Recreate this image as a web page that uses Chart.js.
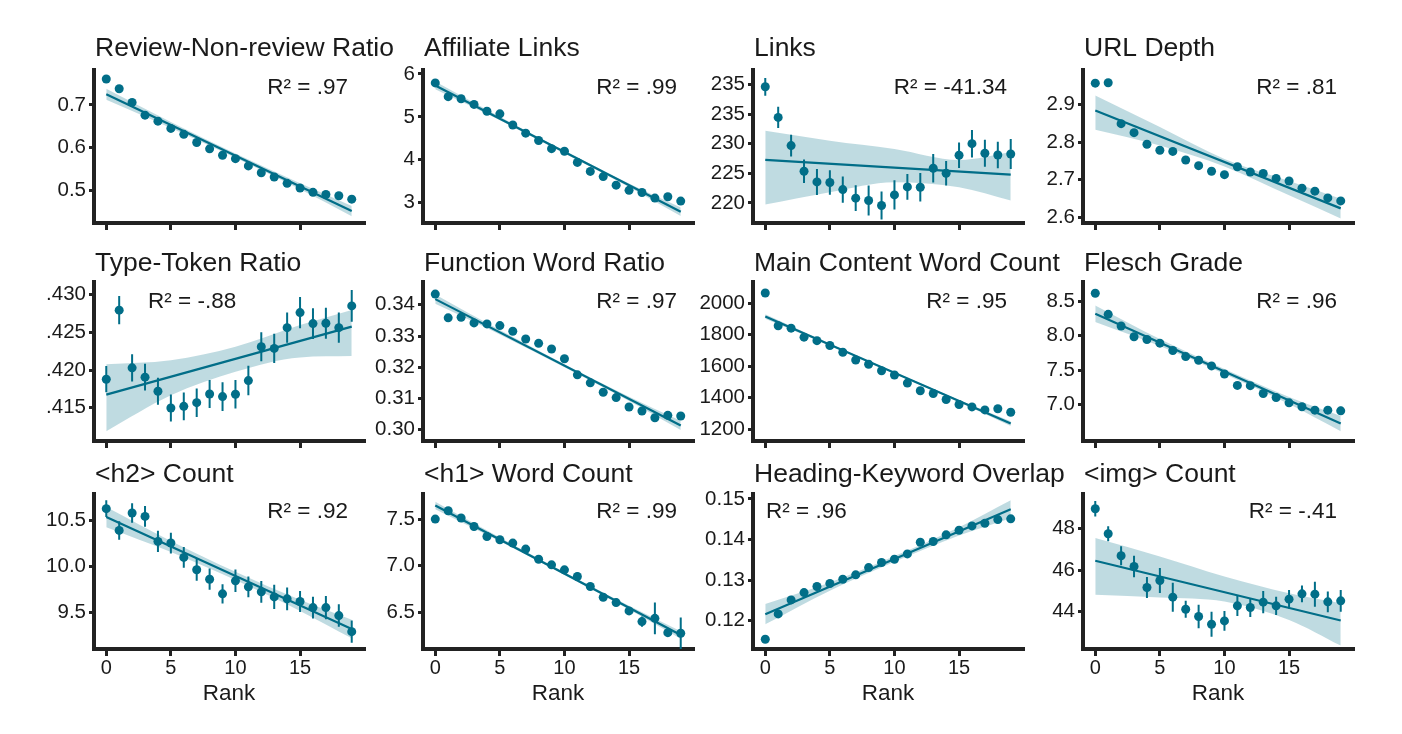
<!DOCTYPE html>
<html>
<head>
<meta charset="utf-8">
<title>Page features by rank</title>
<script src="https://cdn.jsdelivr.net/npm/chart.js@4.4.1/dist/chart.umd.min.js"></script>
<style>
    html, body { margin: 0; padding: 0; background: #fff; overflow: hidden; }
    #grid { position: relative; width: 1402px; height: 734px; }
    #grid canvas { position: absolute; }
</style>
</head>
<body>
<div id="grid"></div>
<script>
const rank = [0,1,2,3,4,5,6,7,8,9,10,11,12,13,14,15,16,17,18,19];
const bandRank = [0,5,10,15,19];
const fitRank = [0,19];
const rankTicks = [0,5,10,15];

// Review-Non-review Ratio
const reviewRatio = [0.761,0.738,0.706,0.676,0.662,0.645,0.631,0.612,0.597,0.582,0.574,0.557,0.541,0.531,0.516,0.505,0.495,0.490,0.487,0.479];
const reviewRatioFit = [0.725,0.451];
const reviewRatioLow = [0.712,0.646,0.576,0.502,0.439];
const reviewRatioHigh = [0.738,0.660,0.586,0.516,0.463];
const reviewRatioTicks = [0.5,0.6,0.7];
const reviewRatioLabels = ["0.5","0.6","0.7"];

// Affiliate Links
const affiliateLinks = [5.79,5.47,5.42,5.29,5.13,5.07,4.81,4.62,4.45,4.26,4.20,3.94,3.73,3.61,3.41,3.29,3.24,3.11,3.14,3.04];
const affiliateLinksFit = [5.73,2.79];
const affiliateLinksLow = [5.64,4.92,4.15,3.37,2.69];
const affiliateLinksHigh = [5.82,5.00,4.21,3.45,2.89];
const affiliateLinksTicks = [3,4,5,6];
const affiliateLinksLabels = ["3","4","5","6"];

// Links
const links = [239.66,234.48,229.70,225.36,223.56,223.45,222.26,220.80,220.41,219.56,221.36,222.71,222.66,225.87,225.02,228.06,230.03,228.40,228.12,228.29];
const linksErr = [1.5,1.8,1.85,1.97,2.2,2.08,2.22,2.17,2.53,2.37,2.48,2.17,2.4,2.4,2.08,2.17,2.33,2.28,2.25,2.53];
const linksFit = [227.27,224.80];
const linksLow = [219.73,221.81,223.50,222.66,220.41];
const linksHigh = [232.23,230.54,229.13,227.27,228.57];
const linksTicks = [220,225,230,235,240];
const linksLabels = ["220","225","230","235","235"];

// URL Depth
const urlDepth = [2.957,2.958,2.849,2.825,2.794,2.778,2.775,2.752,2.737,2.722,2.713,2.734,2.720,2.716,2.703,2.696,2.677,2.669,2.651,2.643];
const urlDepthFit = [2.884,2.623];
const urlDepthLow = [2.833,2.791,2.735,2.658,2.596];
const urlDepthHigh = [2.924,2.840,2.755,2.696,2.649];
const urlDepthTicks = [2.6,2.7,2.8,2.9];
const urlDepthLabels = ["2.6","2.7","2.8","2.9"];

// Type-Token Ratio
const typeToken = [0.4188,0.42796,0.42031,0.41907,0.4172,0.41498,0.4152,0.41569,0.41684,0.41649,0.4168,0.41862,0.42311,0.42289,0.42564,0.42764,0.42618,0.42622,0.42564,0.42853];
const typeTokenErr = [0.00174,0.00187,0.0018,0.00178,0.00178,0.00178,0.00185,0.00189,0.00185,0.00192,0.00189,0.00196,0.00192,0.00194,0.002,0.00207,0.00205,0.00205,0.002,0.00212];
const typeTokenFit = [0.41676,0.42578];
const typeTokenLow = [0.41191,0.41667,0.41978,0.42169,0.42187];
const typeTokenHigh = [0.4208,0.42133,0.42311,0.426,0.428];
const typeTokenTicks = [0.415,0.42,0.425,0.43];
const typeTokenLabels = [".415",".420",".425",".430"];

// Function Word Ratio
const functionWord = [0.34343,0.33582,0.33603,0.33421,0.33389,0.33335,0.33153,0.32906,0.32767,0.32584,0.32273,0.31759,0.31501,0.31201,0.31029,0.30729,0.306,0.30386,0.30461,0.3044];
const functionWordFit = [0.34182,0.30139];
const functionWordLow = [0.3403,0.3305,0.3200,0.3092,0.2999];
const functionWordHigh = [0.3433,0.3319,0.3210,0.3106,0.3029];
const functionWordTicks = [0.30,0.31,0.32,0.33,0.34];
const functionWordLabels = ["0.30","0.31","0.32","0.33","0.34"];

// Main Content Word Count
const mainWords = [2064,1856,1841,1784,1762,1731,1688,1639,1612,1571,1544,1493,1444,1427,1389,1357,1342,1323,1330,1308];
const mainWordsFit = [1915,1236];
const mainWordsLow = [1900,1729,1553,1372,1221];
const mainWordsHigh = [1930,1743,1563,1386,1251];
const mainWordsTicks = [1200,1400,1600,1800,2000];
const mainWordsLabels = ["1200","1400","1600","1800","2000"];

// Flesch Grade
const flesch = [8.617,8.31,8.14,7.984,7.945,7.891,7.784,7.696,7.643,7.56,7.443,7.277,7.273,7.16,7.102,7.024,6.966,6.917,6.917,6.907];
const fleschErr = [0.02,0.05,0.04,0.04,0.04,0.04,0.05,0.05,0.05,0.04,0.05,0.05,0.05,0.05,0.05,0.04,0.04,0.05,0.04,0.06];
const fleschFit = [8.32,6.722];
const fleschLow = [8.20,7.85,7.444,7.008,6.612];
const fleschHigh = [8.44,7.95,7.514,7.108,6.832];
const fleschTicks = [7,7.5,8,8.5];
const fleschLabels = ["7.0","7.5","8.0","8.5"];

// <h2> Count
const h2Count = [10.627,10.391,10.58,10.543,10.272,10.254,10.098,9.964,9.862,9.703,9.844,9.779,9.725,9.67,9.649,9.62,9.554,9.554,9.467,9.293];
const h2CountErr = [0.091,0.1,0.105,0.112,0.116,0.112,0.113,0.12,0.115,0.104,0.122,0.113,0.118,0.131,0.123,0.113,0.118,0.127,0.122,0.121];
const h2CountFit = [10.536,9.322];
const h2CountLow = [10.426,10.157,9.852,9.518,9.222];
const h2CountHigh = [10.646,10.277,9.942,9.638,9.422];
const h2CountTicks = [9.5,10,10.5];
const h2CountLabels = ["9.5","10.0","10.5"];

// <h1> Word Count
const h1Words = [7.5,7.589,7.511,7.421,7.314,7.279,7.243,7.179,7.071,7.011,6.957,6.886,6.779,6.664,6.607,6.518,6.404,6.439,6.286,6.279];
const h1WordsErr = [0.01,0.03,0.03,0.04,0.03,0.03,0.035,0.045,0.035,0.04,0.04,0.045,0.03,0.04,0.04,0.03,0.055,0.17,0.03,0.17];
const h1WordsFit = [7.646,6.261];
const h1WordsLow = [7.606,7.262,6.902,6.533,6.221];
const h1WordsHigh = [7.686,7.302,6.932,6.573,6.301];
const h1WordsTicks = [6.5,7,7.5];
const h1WordsLabels = ["6.5","7.0","7.5"];

// Heading-Keyword Overlap
const headingOverlap = [0.11541,0.12165,0.1251,0.12691,0.12839,0.12913,0.1302,0.13127,0.13307,0.13431,0.13513,0.13644,0.13932,0.13948,0.14113,0.14228,0.14334,0.144,0.1449,0.14507];
const headingOverlapErr = [0.0003,0.0006,0.0007,0.0008,0.0008,0.0008,0.0008,0.0008,0.0008,0.0008,0.0008,0.0008,0.0008,0.0008,0.0008,0.0008,0.0009,0.0009,0.0009,0.0009];
const headingOverlapFit = [0.12157,0.14745];
const headingOverlapLow = [0.11907,0.12738,0.13449,0.141,0.14525];
const headingOverlapHigh = [0.12407,0.12938,0.13589,0.143,0.14965];
const headingOverlapTicks = [0.12,0.13,0.14,0.15];
const headingOverlapLabels = ["0.12","0.13","0.14","0.15"];

// <img> Count
const imgCount = [48.968,47.758,46.694,46.177,45.161,45.5,44.694,44.113,43.758,43.387,43.548,44.274,44.194,44.452,44.274,44.597,44.855,44.839,44.468,44.516];
const imgCountErr = [0.379,0.363,0.46,0.524,0.508,0.605,0.702,0.411,0.565,0.605,0.476,0.484,0.452,0.54,0.444,0.444,0.403,0.605,0.5,0.524];
const imgCountFit = [46.452,43.565];
const imgCountLow = [44.806,44.677,44.484,43.597,42.355];
const imgCountHigh = [47.548,46.661,45.694,44.887,44.403];
const imgCountTicks = [44,46,48];
const imgCountLabels = ["44","46","48"];

const panels = [
    {title: "Review-Non-review Ratio", r2: "R\u00B2 = .97", values: reviewRatio, err: null, fit: reviewRatioFit, low: reviewRatioLow, high: reviewRatioHigh, ticks: reviewRatioTicks, labels: reviewRatioLabels, min: 0.423, max: 0.782},
    {title: "Affiliate Links", r2: "R\u00B2 = .99", values: affiliateLinks, err: null, fit: affiliateLinksFit, low: affiliateLinksLow, high: affiliateLinksHigh, ticks: affiliateLinksTicks, labels: affiliateLinksLabels, min: 2.53, max: 6.09},
    {title: "Links", r2: "R\u00B2 = -41.34", values: links, err: linksErr, fit: linksFit, low: linksLow, high: linksHigh, ticks: linksTicks, labels: linksLabels, min: 216.6, max: 242.5},
    {title: "URL Depth", r2: "R\u00B2 = .81", values: urlDepth, err: null, fit: urlDepthFit, low: urlDepthLow, high: urlDepthHigh, ticks: urlDepthTicks, labels: urlDepthLabels, min: 2.584, max: 2.992},
    {title: "Type-Token Ratio", r2: "R\u00B2 = -.88", values: typeToken, err: typeTokenErr, fit: typeTokenFit, low: typeTokenLow, high: typeTokenHigh, ticks: typeTokenTicks, labels: typeTokenLabels, min: 0.4106, max: 0.4317, r2Left: 54},
    {title: "Function Word Ratio", r2: "R\u00B2 = .97", values: functionWord, err: null, fit: functionWordFit, low: functionWordLow, high: functionWordHigh, ticks: functionWordTicks, labels: functionWordLabels, min: 0.2964, max: 0.3473},
    {title: "Main Content Word Count", r2: "R\u00B2 = .95", values: mainWords, err: null, fit: mainWordsFit, low: mainWordsLow, high: mainWordsHigh, ticks: mainWordsTicks, labels: mainWordsLabels, min: 1125.7, max: 2133.7},
    {title: "Flesch Grade", r2: "R\u00B2 = .96", values: flesch, err: fleschErr, fit: fleschFit, low: fleschLow, high: fleschHigh, ticks: fleschTicks, labels: fleschLabels, min: 6.469, max: 8.78},
    {title: "<h2> Count", r2: "R\u00B2 = .92", values: h2Count, err: h2CountErr, fit: h2CountFit, low: h2CountLow, high: h2CountHigh, ticks: h2CountTicks, labels: h2CountLabels, min: 9.105, max: 10.786},
    {title: "<h1> Word Count", r2: "R\u00B2 = .99", values: h1Words, err: h1WordsErr, fit: h1WordsFit, low: h1WordsLow, high: h1WordsHigh, ticks: h1WordsTicks, labels: h1WordsLabels, min: 6.111, max: 7.768},
    {title: "Heading-Keyword Overlap", r2: "R\u00B2 = .96", values: headingOverlap, err: headingOverlapErr, fit: headingOverlapFit, low: headingOverlapLow, high: headingOverlapHigh, ticks: headingOverlapTicks, labels: headingOverlapLabels, min: 0.113, max: 0.1512, r2Left: 13},
    {title: "<img> Count", r2: "R\u00B2 = -.41", values: imgCount, err: imgCountErr, fit: imgCountFit, low: imgCountLow, high: imgCountHigh, ticks: imgCountTicks, labels: imgCountLabels, min: 42.19, max: 49.68}
];

// layout of the grid (axis line positions in page pixels)
const colAxis = [94, 423, 753, 1083];
const rowTop = [70, 282, 494];
const rowBottom = [223, 441, 649];
const titleBlock = [42, 40, 42];
const titleGap = [14, 11, 12];
const xAxisHeight = [16, 16, 58];
const r2Baseline = [24, 26, 24];
const yAxisWidth = 60;
const plotWidth = 270;
const padRight = 45;

const teal = "#016e88";
const band = "rgba(1,110,136,0.25)";
const ink = "#1a1a1a";
const axisColor = "#222222";
const family = "'Liberation Sans', Arial, Helvetica, sans-serif";

Chart.defaults.font.family = family;
Chart.defaults.color = ink;

// panel title and R² note, drawn as canvas text next to the plot area
const panelText = {
    id: "panelText",
    afterDraw(chart, args, opts) {
        const area = chart.chartArea;
        const ctx = chart.ctx;
        ctx.save();
        ctx.fillStyle = ink;
        ctx.textBaseline = "alphabetic";

        ctx.font = "26.5px " + family;
        ctx.textAlign = "left";
        ctx.fillText(opts.title, area.left + 1, area.top - opts.titleGap);

        ctx.font = "22.5px " + family;
        if (opts.r2Left != null) {
            ctx.textAlign = "left";
            ctx.fillText(opts.r2, area.left + opts.r2Left, area.top + opts.r2Baseline);
        } else {
            ctx.textAlign = "right";
            ctx.fillText(opts.r2, area.left + 254, area.top + opts.r2Baseline);
        }
        ctx.restore();
    }
};

function fixTicks(values) {
    return function(scale) {
        scale.ticks = values.map(v => ({value: v}));
    };
}

function crearPanel(p, i) {
    const row = Math.floor(i / 4);
    const col = i % 4;
    const top = rowTop[row] - titleBlock[row];
    const height = titleBlock[row] + (rowBottom[row] - rowTop[row]) + xAxisHeight[row];
    const width = yAxisWidth + plotWidth + padRight;

    const canvas = document.createElement("canvas");
    canvas.width = width;
    canvas.height = height;
    canvas.style.left = (colAxis[col] - yAxisWidth) + "px";
    canvas.style.top = top + "px";
    document.getElementById("grid").appendChild(canvas);

    const datasets = [{
        data: p.values.map((v, k) => ({x: rank[k], y: v})),
        pointRadius: 4.5,
        pointBackgroundColor: teal,
        pointBorderWidth: 0,
        order: 0
    }];

    if (p.err) {
        const bars = [];
        p.values.forEach((v, k) => {
            bars.push({x: rank[k], y: v - p.err[k]}, {x: rank[k], y: v + p.err[k]}, {x: rank[k], y: null});
        });
        datasets.push({data: bars, showLine: true, spanGaps: false, pointRadius: 0, borderColor: teal, borderWidth: 2, order: 1});
    }

    datasets.push({
        data: fitRank.map((r, k) => ({x: r, y: p.fit[k]})),
        showLine: true, pointRadius: 0, borderColor: teal, borderWidth: 2.2, order: 2
    });
    datasets.push({
        data: bandRank.map((r, k) => ({x: r, y: p.high[k]})),
        showLine: true, pointRadius: 0, borderWidth: 0, borderColor: "transparent",
        backgroundColor: band, fill: "+1", cubicInterpolationMode: "monotone", order: 3
    });
    datasets.push({
        data: bandRank.map((r, k) => ({x: r, y: p.low[k]})),
        showLine: true, pointRadius: 0, borderWidth: 0, borderColor: "transparent",
        cubicInterpolationMode: "monotone", order: 4
    });

    const lastRow = row === 2;

    new Chart(canvas, {
        type: "scatter",
        data: {datasets: datasets},
        plugins: [panelText],
        options: {
            responsive: false,
            animation: false,
            devicePixelRatio: 1,
            events: [],
            layout: {padding: {left: 0, right: padRight, top: titleBlock[row], bottom: 0}},
            plugins: {
                legend: {display: false},
                tooltip: {enabled: false},
                title: {display: false},
                panelText: {
                    title: p.title,
                    titleGap: titleGap[row],
                    r2: p.r2,
                    r2Left: p.r2Left,
                    r2Baseline: r2Baseline[row]
                }
            },
            scales: {
                x: {
                    type: "linear",
                    min: -0.95,
                    max: 19.95,
                    afterBuildTicks: fixTicks(rankTicks),
                    afterFit: function(scale) { scale.height = xAxisHeight[row]; },
                    grid: {drawOnChartArea: false, drawTicks: true, tickLength: 7, lineWidth: 3, color: axisColor},
                    border: {display: true, width: 4, color: axisColor},
                    ticks: {display: lastRow, font: {size: 20}, color: ink, padding: 0, maxRotation: 0},
                    title: {display: lastRow, text: "Rank", font: {size: 22.5}, color: ink, padding: 0}
                },
                y: {
                    min: p.min,
                    max: p.max,
                    afterBuildTicks: fixTicks(p.ticks),
                    afterFit: function(scale) { scale.width = yAxisWidth; },
                    grid: {drawOnChartArea: false, drawTicks: true, tickLength: 5, lineWidth: 3, color: axisColor},
                    border: {display: true, width: 4, color: axisColor},
                    ticks: {
                        font: {size: 20.5},
                        color: ink,
                        padding: 3,
                        callback: function(value, index) { return p.labels[index]; }
                    }
                }
            }
        }
    });
}

panels.forEach(crearPanel);
</script>
</body>
</html>
